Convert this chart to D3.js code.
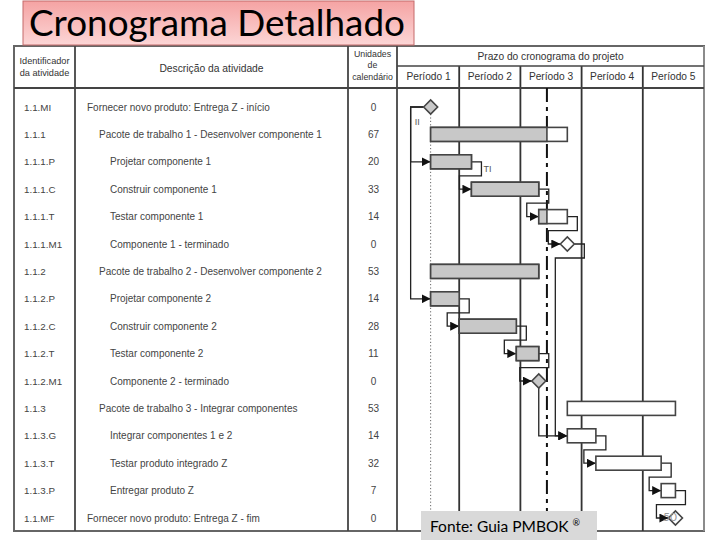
<!DOCTYPE html>
<html>
<head>
<meta charset="utf-8">
<script src="https://cdn.jsdelivr.net/npm/d3@7"></script>
<style>
  body { margin: 0; background: #fff; }
  svg { display: block; }
</style>
</head>
<body>
<script>
// dados do cronograma
const ids = ["1.1.MI", "1.1.1", "1.1.1.P", "1.1.1.C", "1.1.1.T", "1.1.1.M1", "1.1.2", "1.1.2.P", "1.1.2.C", "1.1.2.T", "1.1.2.M1", "1.1.3", "1.1.3.G", "1.1.3.T", "1.1.3.P", "1.1.MF"]
const descs = [
    "Fornecer novo produto: Entrega Z - início",
    "Pacote de trabalho 1 - Desenvolver componente 1",
    "Projetar componente 1",
    "Construir componente 1",
    "Testar componente 1",
    "Componente 1 - terminado",
    "Pacote de trabalho 2 - Desenvolver componente 2",
    "Projetar componente 2",
    "Construir componente 2",
    "Testar componente 2",
    "Componente 2 - terminado",
    "Pacote de trabalho 3 - Integrar componentes",
    "Integrar componentes 1 e 2",
    "Testar produto integrado Z",
    "Entregar produto Z",
    "Fornecer novo produto: Entrega Z - fim"
]
const levels = [0, 1, 2, 2, 2, 2, 1, 2, 2, 2, 2, 1, 2, 2, 2, 0]
const units = [0, 67, 20, 33, 14, 0, 53, 14, 28, 11, 0, 53, 14, 32, 7, 0]
const starts = [0, 0, 0, 20, 53, 67, 0, 0, 14, 42, 53, 67, 67, 81, 113, 120]
const periods = ["Período 1", "Período 2", "Período 3", "Período 4", "Período 5"]
const periodStarts = [-16, 14, 44, 74, 104]
const periodLen = 30
const statusDay = 57
// ligações término-início (origem, destino)
const links = [[0, 2], [0, 7], [2, 3], [3, 4], [4, 5], [7, 8], [8, 9], [9, 10], [5, 12], [10, 12], [12, 13], [13, 14], [14, 15]]

const W = 720, H = 540
const svg = d3.select("body").append("svg")
    .attr("width", W)
    .attr("height", H)

const font = "'Liberation Sans', Arial, sans-serif"
const lineCol = "#444"

// escalas
const x = d3.scaleLinear()
    .domain([periodStarts[0], periodStarts[periodStarts.length - 1] + periodLen])
    .range([398, 704])
const y = d3.scalePoint()
    .domain(d3.range(ids.length))
    .range([107, 518])

const tblL = 14, tblR = 704, tblT = 46, tblB = 531, headB = 88
const colId = 75, colDesc = 348, colUnits = 397

// defs: gradiente do título e seta
const defs = svg.append("defs")
const grad = defs.append("linearGradient").attr("id", "tg").attr("x1", 0).attr("x2", 0).attr("y1", 0).attr("y2", 1)
grad.append("stop").attr("offset", "0%").attr("stop-color", "#f5a3a3")
grad.append("stop").attr("offset", "100%").attr("stop-color", "#fcd6d6")

defs.append("marker")
    .attr("id", "arr")
    .attr("viewBox", "0 0 10 10")
    .attr("refX", 10).attr("refY", 5)
    .attr("markerWidth", 9).attr("markerHeight", 9)
    .attr("markerUnits", "userSpaceOnUse")
    .attr("orient", "auto")
    .append("path").attr("d", "M0,0L10,5L0,10Z").attr("fill", "#111")

// ---------- tabela ----------
const tbl = svg.append("g")

tbl.append("rect")
    .attr("x", tblL).attr("y", tblT)
    .attr("width", tblR - tblL).attr("height", tblB - tblT)
    .attr("fill", "#fff").attr("stroke", "#666").attr("stroke-width", 2)

// linhas verticais dos períodos (escala)
const bounds = periodStarts.concat([periodStarts[periodStarts.length - 1] + periodLen])
tbl.selectAll(".pline")
    .data(bounds.slice(1, -1))
    .enter()
    .append("line")
    .attr("x1", d => x(d)).attr("x2", d => x(d))
    .attr("y1", 66).attr("y2", tblB)
    .attr("stroke", "#333").attr("stroke-width", 1.8)

tbl.append("line").attr("x1", x(bounds[5])).attr("x2", x(bounds[5]))
    .attr("y1", tblT).attr("y2", tblB).attr("stroke", "#999").attr("stroke-width", 1.5)

// colunas
;[colId, colDesc, colUnits].forEach(cx => {
    tbl.append("line").attr("x1", cx).attr("x2", cx)
        .attr("y1", tblT).attr("y2", tblB)
        .attr("stroke", lineCol).attr("stroke-width", 1.8)
})
tbl.append("line").attr("x1", tblL).attr("x2", tblR).attr("y1", headB).attr("y2", headB)
    .attr("stroke", lineCol).attr("stroke-width", 1.8)
tbl.append("line").attr("x1", colUnits).attr("x2", tblR).attr("y1", 66).attr("y2", 66)
    .attr("stroke", lineCol).attr("stroke-width", 1.5)

// cabeçalho
const hTxt = (tx, ty, t, size) => tbl.append("text")
    .attr("x", tx).attr("y", ty)
    .attr("text-anchor", "middle")
    .attr("font-family", font).attr("font-size", size || 9)
    .attr("fill", "#333")
    .text(t)

hTxt((tblL + colId) / 2, 64, "Identificador", 9.2)
hTxt((tblL + colId) / 2, 76, "da atividade", 9.2)
hTxt((colId + colDesc) / 2, 72, "Descrição da atividade", 10.3)
hTxt((colDesc + colUnits) / 2, 57, "Unidades", 8.8)
hTxt((colDesc + colUnits) / 2, 68, "de", 8.8)
hTxt((colDesc + colUnits) / 2, 80, "calendário", 8.8)
hTxt((colUnits + tblR) / 2, 60, "Prazo do cronograma do projeto", 10.2)

tbl.selectAll(".ptxt")
    .data(periods)
    .enter()
    .append("text")
    .attr("x", (d, i) => x(periodStarts[i] + periodLen / 2))
    .attr("y", 80)
    .attr("text-anchor", "middle")
    .attr("font-family", font).attr("font-size", 10.2)
    .attr("fill", "#333")
    .text(d => d)

// linhas de texto
const rows = tbl.selectAll(".row")
    .data(ids)
    .enter()
    .append("g")
    .attr("transform", (d, i) => `translate(0,${y(i) + 3.5})`)

rows.append("text")
    .attr("x", 24)
    .attr("font-family", font).attr("font-size", 9.8).attr("fill", "#444")
    .text(d => d)

rows.append("text")
    .attr("x", (d, i) => [87, 99, 110][levels[i]])
    .attr("font-family", font).attr("font-size", 10).attr("fill", "#444")
    .text((d, i) => descs[i])

rows.append("text")
    .attr("x", (colDesc + colUnits) / 2 + 1)
    .attr("text-anchor", "middle")
    .attr("font-family", font).attr("font-size", 10).attr("fill", "#444")
    .text((d, i) => units[i])

// ---------- gantt ----------
const g = svg.append("g")

// linha pontilhada do início
g.append("line")
    .attr("x1", x(0)).attr("x2", x(0))
    .attr("y1", y(0) + 7).attr("y2", tblB)
    .attr("stroke", "#666").attr("stroke-width", 1).attr("stroke-dasharray", "1.2,2.2")

// linha da data de status
g.append("line")
    .attr("x1", x(statusDay)).attr("x2", x(statusDay))
    .attr("y1", headB).attr("y2", tblB)
    .attr("stroke", "#111").attr("stroke-width", 2)
    .attr("stroke-dasharray", "14,5,4,5")

// ligações
const barH = 14, dia = 7
const endX = i => units[i] === 0 ? x(starts[i]) + dia : x(starts[i] + units[i])
const startX = i => units[i] === 0 ? x(starts[i]) - dia : x(starts[i])

const linkPath = ([a, b]) => {
    const ya = y(a), yb = y(b)
    const xe = endX(a), xs = startX(b)
    if (a === 0) {
        // início-início a partir do marco inicial
        const lx = x(starts[a]) - 20
        return `M${xe - 2 * dia},${ya}H${lx}V${yb}H${xs}`
    }
    if (xs - xe > 20) {
        // desce direto do marco
        const cx = x(starts[a])
        return `M${cx},${ya + dia}V${yb}H${xs}`
    }
    const mid = ya + 14
    return `M${xe},${ya}h10V${mid}H${xs - 12}V${yb}H${xs}`
}

g.selectAll(".link")
    .data(links)
    .enter()
    .append("path")
    .attr("d", linkPath)
    .attr("fill", "none")
    .attr("stroke", "#222").attr("stroke-width", 1.3)
    .attr("marker-end", "url(#arr)")

// barras
const tasks = d3.range(ids.length).filter(i => units[i] > 0)
const bars = g.selectAll(".bar")
    .data(tasks)
    .enter()
    .append("g")

bars.append("rect")
    .attr("x", i => x(starts[i]))
    .attr("y", i => y(i) - barH / 2)
    .attr("width", i => x(starts[i] + units[i]) - x(starts[i]))
    .attr("height", barH)
    .attr("fill", "#fff").attr("stroke", "#444").attr("stroke-width", 1.6)

bars.filter(i => starts[i] < statusDay)
    .append("rect")
    .attr("x", i => x(starts[i]))
    .attr("y", i => y(i) - barH / 2)
    .attr("width", i => x(Math.min(statusDay, starts[i] + units[i])) - x(starts[i]))
    .attr("height", barH)
    .attr("fill", "#c8c8c8").attr("stroke", "#444").attr("stroke-width", 1.6)

// marcos
const miles = d3.range(ids.length).filter(i => units[i] === 0)
g.selectAll(".mile")
    .data(miles)
    .enter()
    .append("path")
    .attr("d", i => {
        const cx = x(starts[i]), cy = y(i)
        return `M${cx - dia},${cy}L${cx},${cy - dia}L${cx + dia},${cy}L${cx},${cy + dia}Z`
    })
    .attr("fill", i => starts[i] <= statusDay ? "#c8c8c8" : "#fff")
    .attr("stroke", "#444").attr("stroke-width", 1.6)

// rótulos das relações
g.append("text").attr("x", x(0) - 16).attr("y", y(0) + 18)
    .attr("font-family", font).attr("font-size", 9).attr("fill", "#555").text("II")
g.append("text").attr("x", x(starts[2] + units[2]) + 12).attr("y", y(2) + 10)
    .attr("font-family", font).attr("font-size", 9).attr("fill", "#555").text("TI")

// ---------- título ----------
svg.append("rect")
    .attr("x", 23).attr("y", 1)
    .attr("width", 391).attr("height", 44)
    .attr("fill", "url(#tg)").attr("stroke", "#c46a6a").attr("stroke-width", 1)

svg.append("text")
    .attr("x", 29).attr("y", 36)
    .attr("font-family", "Lato, 'Open Sans', sans-serif")
    .attr("font-size", 37)
    .attr("textLength", 376).attr("lengthAdjust", "spacingAndGlyphs")
    .attr("fill", "#000")
    .text("Cronograma Detalhado")

// número do slide
svg.append("text")
    .attr("x", 663).attr("y", 521)
    .attr("font-family", "Lato, sans-serif").attr("font-size", 12)
    .attr("fill", "#999").text("50")

// fonte
svg.append("rect")
    .attr("x", 421).attr("y", 511)
    .attr("width", 176).attr("height", 29)
    .attr("fill", "#d9d9d9")

const src = svg.append("text")
    .attr("x", 430).attr("y", 532)
    .attr("font-family", "Lato, 'Open Sans', sans-serif")
    .attr("font-size", 15.5).attr("fill", "#000")
src.append("tspan").text("Fonte: Guia PMBOK ")
src.append("tspan").attr("font-size", 9).attr("dy", -6).text("®")
</script>
</body>
</html>
